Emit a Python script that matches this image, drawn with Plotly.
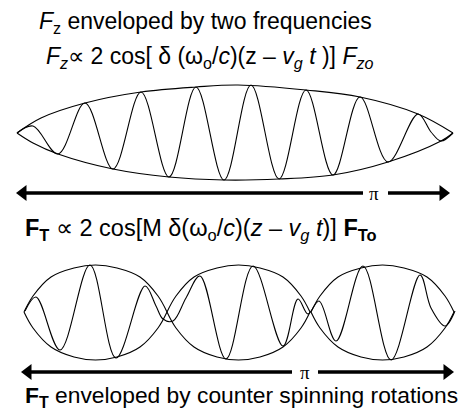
import plotly.graph_objects as go

# ---- values (diagram units: x along z, y downward) ----
# Top panel: carrier wave inside a single two-frequency envelope
top_wave_x = [9, 25, 50, 77, 105, 133, 161, 188, 216, 243, 271, 298, 325, 352, 380, 410, 423, 433, 445]
top_wave_y = [125, 118, 146, 95, 161, 84, 169, 79, 172, 77, 171, 82, 167, 89, 154, 106, 124, 133, 125]

top_env_up_x = [9, 33, 77, 133, 188, 230, 298, 352, 410, 445]
top_env_up_y = [125, 110, 95, 84, 79, 77, 82, 89, 106, 125]
top_env_lo_x = [9, 25, 50, 105, 161, 216, 271, 325, 380, 433, 445]
top_env_lo_y = [125, 135, 146, 161, 169, 172, 171, 167, 154, 133, 125]

# Bottom panel: three lens-shaped envelopes (counter spinning rotations)
lens_starts = [16, 159, 303]
lens_dx = [0, 9, 27, 50, 71.5, 93, 116, 134, 143]
lens_up_y = [304, 288, 269, 260, 257, 260, 269, 288, 304]
lens_lo_y = [304, 320, 339, 349, 352, 349, 339, 320, 304]

bot_wave_x = [17, 28, 52, 82, 108, 137, 148, 155, 165, 178, 192, 218, 245, 275, 290, 300, 311, 328, 355, 383, 412, 423, 437, 447]
bot_wave_y = [303, 289, 342, 257, 350, 278, 298, 311, 313, 290, 268, 351, 258, 338, 291, 306, 293, 333, 258, 352, 267, 300, 318, 303]

# ---- layout constants ----
W, H = 475, 410
FONT = "Liberation Sans, Arial, Helvetica, sans-serif"
BLACK = "#000000"

arrows = [
    # (left tip, gap start, gap end, right tip, y, pi x)
    dict(x0=8, g0=355, g1=380, x1=442, y=185, px=366),
    dict(x0=13, g0=284, g1=310, x1=446, y=364, px=297),
]

fig = go.Figure()

def curve(x, y):
    fig.add_trace(go.Scatter(
        x=x, y=y, mode="lines",
        line=dict(color=BLACK, width=1.1, shape="spline", smoothing=1.0),
        hoverinfo="skip", showlegend=False))

curve(top_env_up_x, top_env_up_y)
curve(top_env_lo_x, top_env_lo_y)
curve(top_wave_x, top_wave_y)

for s in lens_starts:
    xs = [s + d for d in lens_dx]
    curve(xs, lens_up_y)
    curve(xs, lens_lo_y)
curve(bot_wave_x, bot_wave_y)

for a in arrows:
    for seg in ([a["x0"] + 6, a["g0"]], [a["g1"], a["x1"] - 6]):
        fig.add_trace(go.Scatter(
            x=seg, y=[a["y"], a["y"]], mode="lines",
            line=dict(color=BLACK, width=3.4),
            hoverinfo="skip", showlegend=False))
    fig.add_trace(go.Scatter(
        x=[a["x0"] + 7, a["x1"] - 7], y=[a["y"], a["y"]], mode="markers",
        marker=dict(symbol=["triangle-left", "triangle-right"], size=14,
                    color=BLACK, line=dict(width=0)),
        hoverinfo="skip", showlegend=False))

texts = [
    (29, 14, 23, "<i>F</i><sub>z</sub> enveloped by two frequencies"),
    (36, 49, 23, "<i>F<sub>z</sub></i>\u221d 2 cos[ \u03b4 (\u03c9<sub>o</sub>/<i>c</i>)(z \u2013 <i>v<sub>g</sub> t</i> )] <i>F<sub>zo</sub></i>"),
    (15, 221, 23.5, "<b>F<sub>T</sub></b> \u221d 2 cos[M \u03b4(\u03c9<sub>o</sub>/<i>c</i>)(<i>z</i> \u2013 <i>v<sub>g</sub> t</i>)] <b>F<sub>To</sub></b>"),
    (15, 388, 22.8, "<b>F<sub>T</sub></b> enveloped by counter spinning rotations"),
]
ann = []
for x, y, fs, t in texts:
    ann.append(dict(x=x, y=y, xref="x", yref="y", text=t, showarrow=False,
                    xanchor="left", yanchor="middle",
                    font=dict(family=FONT, size=fs, color=BLACK)))
for a in arrows:
    ann.append(dict(x=a["px"], y=a["y"], xref="x", yref="y", text="\u03c0",
                    showarrow=False, xanchor="center", yanchor="middle",
                    font=dict(family="Liberation Serif, Times New Roman, serif", size=19, color=BLACK)))

fig.update_layout(
    width=W, height=H,
    margin=dict(l=0, r=0, t=0, b=0),
    paper_bgcolor="white", plot_bgcolor="white",
    xaxis=dict(range=[0, W], visible=False, fixedrange=True),
    yaxis=dict(range=[H, 0], visible=False, fixedrange=True),
    annotations=ann,
    showlegend=False,
)

fig.write_html("out.html")
